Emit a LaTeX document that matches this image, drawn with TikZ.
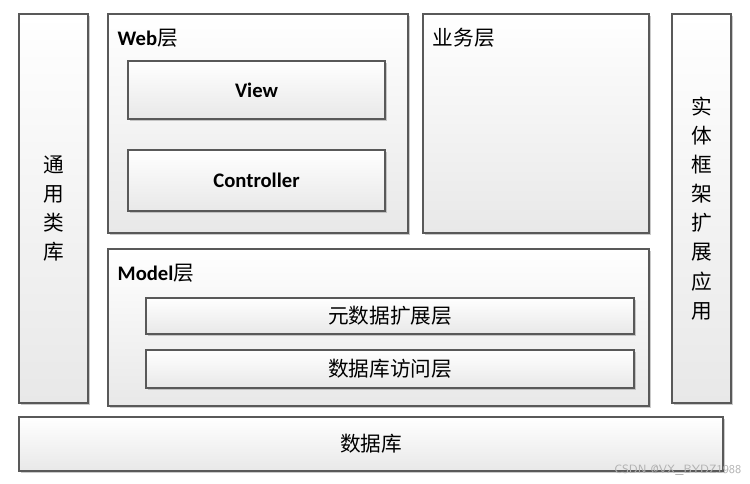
\documentclass[tikz,border=0pt]{standalone}
\usepackage{fontspec}
\setmainfont{Carlito}
\newfontfamily\cjk{Noto Sans CJK SC}
\usetikzlibrary{shadows}

\tikzset{
  box/.style={draw=black!65, line width=0.8pt, top color=white, bottom color=black!9,
    drop shadow={shadow xshift=1.2pt, shadow yshift=-1.2pt, fill=black!35, opacity=.6},
    inner sep=0pt, align=center},
  latin/.style={font=\fontsize{15.5}{18}\selectfont\bfseries},
  hanzi/.style={font=\fontsize{15.5}{21.8}\selectfont\cjk},
}

\begin{document}
\begin{tikzpicture}[x=0.75pt, y=-0.75pt]
        \useasboundingbox (0,0) rectangle (750,484);

        % Colonne laterali
        \node[box, hanzi, minimum width=51.75pt, minimum height=291.75pt] (lib) at (53.5,208.5) {通\\用\\类\\库};
        \node[box, hanzi, minimum width=44.25pt, minimum height=291.75pt] (ext) at (701.5,208.5) {实\\体\\框\\架\\扩\\展\\应\\用};

        % Web layer
        \node[box, minimum width=225pt, minimum height=164.25pt] (web) at (258,123.5) {};
        \node[latin, anchor=west] (webtitle) at (113,38) {Web{\mdseries\cjk 层}};
        \node[box, latin, minimum width=192.75pt, minimum height=43.5pt] (view) at (256.5,90) {View};
        \node[box, latin, minimum width=192.75pt, minimum height=45.75pt] (ctrl) at (256.5,180.5) {Controller};

        % Business layer
        \node[box, minimum width=169.5pt, minimum height=164.25pt] (biz) at (536,123.5) {};
        \node[hanzi, anchor=west] (biztitle) at (428,38) {业务层};

        % Model layer
        \node[box, minimum width=405.75pt, minimum height=117.75pt] (model) at (378.5,327.5) {};
        \node[latin, anchor=west] (modeltitle) at (113,273) {Model{\mdseries\cjk 层}};
        \node[box, hanzi, minimum width=366pt, minimum height=27pt] (meta) at (390,316) {元数据扩展层};
        \node[box, hanzi, minimum width=366pt, minimum height=28.5pt] (dal) at (390,369) {数据库访问层};

        % Database
        \node[box, hanzi, minimum width=528pt, minimum height=40.5pt] (db) at (371,444) {数据库};

        % Watermark
        \node[anchor=east, text=black!30, font=\fontsize{9}{10}\selectfont\sffamily] (mark) at (746,470) {CSDN @VX\_BYDZ1988};
    \end{tikzpicture}
\end{document}
